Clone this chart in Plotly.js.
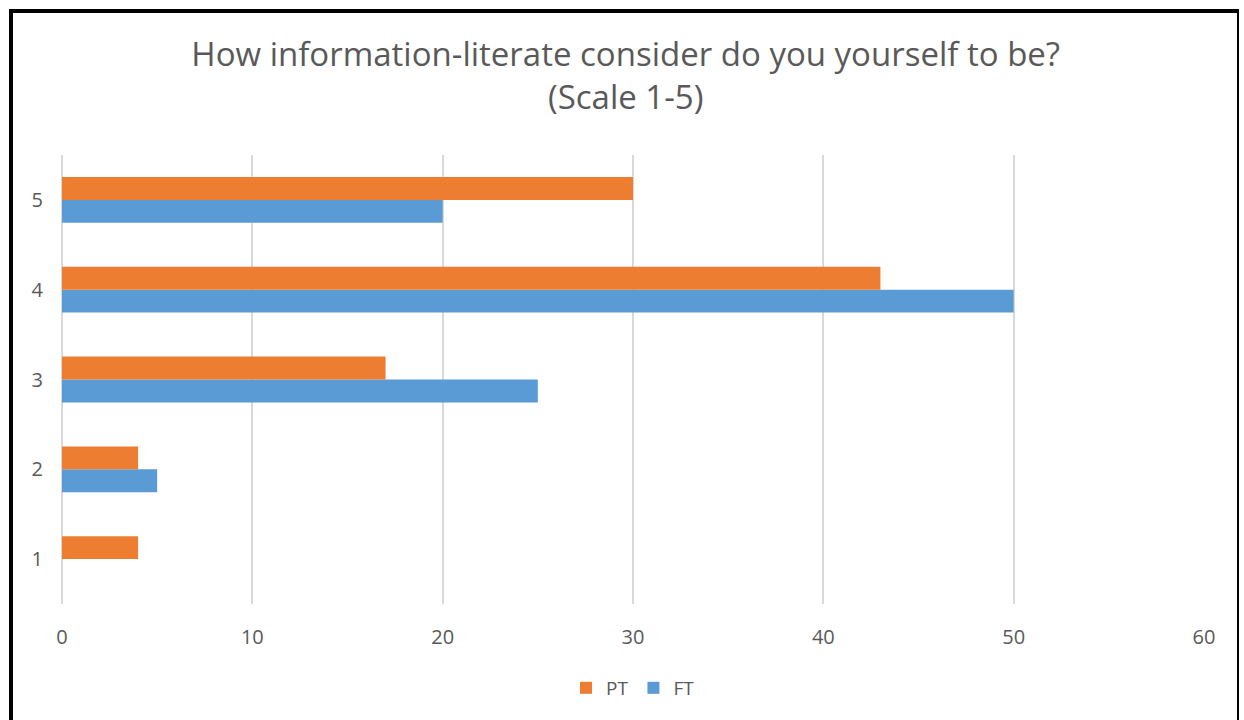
<!DOCTYPE html>
<html>
<head>
<meta charset="utf-8">
<script src="https://cdn.plot.ly/plotly-3.0.1.min.js"></script>
<style>
  html, body { margin: 0; padding: 0; background: #fff; }
  #wrap { position: relative; width: 1244px; height: 720px; }
  #chart { width: 1244px; height: 720px; }
  #frame {
    position: absolute; left: 9px; top: 9px; width: 1230px; height: 720px;
    border-left: 4px solid #000; border-top: 4px solid #000; border-right: 2px solid #000;
    box-sizing: border-box; pointer-events: none;
  }
</style>
</head>
<body>
<div id="wrap">
  <div id="chart"></div>
  <div id="frame"></div>
</div>
<script>
// Self-rated information literacy, scale 1-5
const ratings = ['1', '2', '3', '4', '5'];
const ptValues = [4, 4, 17, 43, 30];
const ftValues = [0, 5, 25, 50, 20];
const xTicks = [0, 10, 20, 30, 40, 50, 60];

const textColor = '#595959';
const baseFont = { family: 'Open Sans, Liberation Sans, sans-serif', color: textColor };

const traces = [
  {
    type: 'bar', orientation: 'h', name: 'FT',
    y: ratings, x: ftValues,
    marker: { color: '#5B9BD5', line: { width: 0 } },
    hoverinfo: 'x+name'
  },
  {
    type: 'bar', orientation: 'h', name: 'PT',
    y: ratings, x: ptValues,
    marker: { color: '#ED7D31', line: { width: 0 } },
    hoverinfo: 'x+name'
  }
];

const layout = {
  width: 1244, height: 720,
  paper_bgcolor: '#fff', plot_bgcolor: '#fff',
  margin: { l: 62, r: 40, t: 155, b: 116 },
  barmode: 'group', bargap: 0.49, bargroupgap: 0,
  font: Object.assign({ size: 20 }, baseFont),
  title: {
    text: 'How information-literate consider do you yourself to be?<br>(Scale 1-5)',
    x: 0.503, xanchor: 'center', yref: 'container', y: 0.908, yanchor: 'middle',
    font: Object.assign({ size: 33 }, baseFont)
  },
  xaxis: {
    range: [0, 60], tickvals: xTicks, ticktext: xTicks.map(String),
    showgrid: true, gridcolor: '#D9D9D9', gridwidth: 2,
    zeroline: true, zerolinecolor: '#D9D9D9', zerolinewidth: 2,
    showline: false, ticks: '',
    ticklabelstandoff: 19,
    tickfont: Object.assign({ size: 20 }, baseFont)
  },
  yaxis: {
    type: 'category', categoryorder: 'array', categoryarray: ratings,
    range: [-0.5, 4.5],
    showgrid: false, zeroline: false, showline: false, ticks: '',
    ticklabelstandoff: 18,
    tickfont: Object.assign({ size: 20 }, baseFont)
  },
  showlegend: true,
  legend: {
    orientation: 'h', traceorder: 'reversed',
    x: 0.5, xanchor: 'center', y: -0.187, yanchor: 'middle',
    font: Object.assign({ size: 19 }, baseFont),
    itemwidth: 30
  }
};

Plotly.newPlot('chart', traces, layout, { displayModeBar: false, staticPlot: true });
</script>
</body>
</html>
